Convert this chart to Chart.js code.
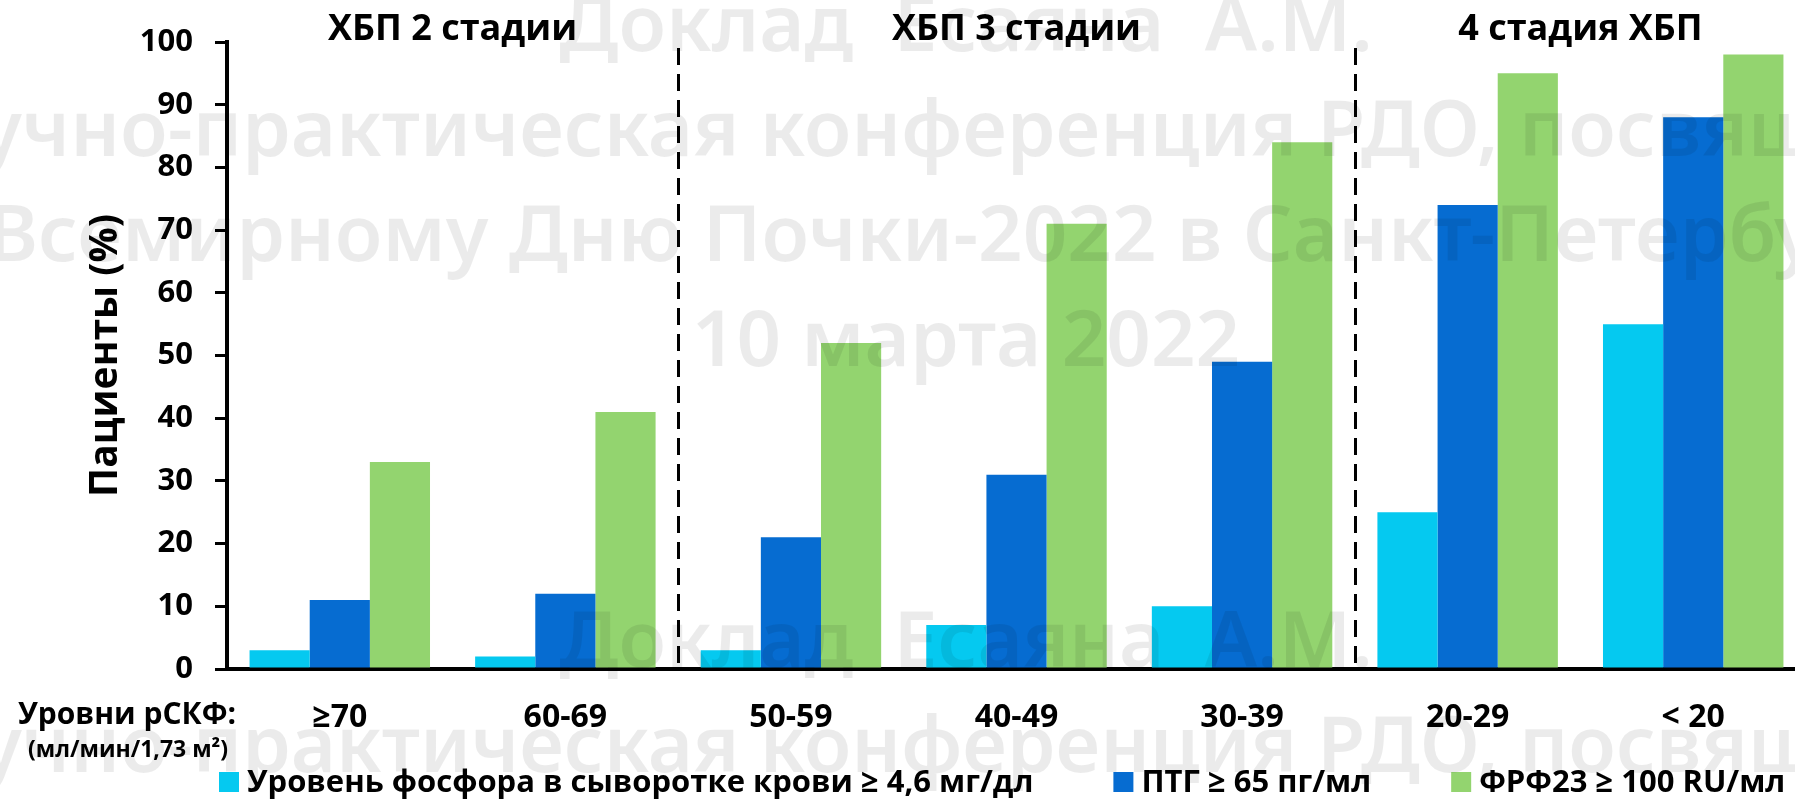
<!DOCTYPE html>
<html>
<head>
<meta charset="utf-8">
<script src="https://cdn.jsdelivr.net/npm/chart.js@4.4.1/dist/chart.umd.min.js"></script>
<style>
  html, body { margin: 0; padding: 0; background: #ffffff; overflow: hidden; }
  #wrap { width: 1795px; height: 799px; overflow: hidden; position: relative; }
  canvas { display: block; }
</style>
</head>
<body>
<div id="wrap"><canvas id="chart" width="1806" height="799"></canvas></div>
<script>
// eGFR ranges (ml/min/1.73 m2)
const categories = ['≥70', '60-69', '50-59', '40-49', '30-39', '20-29', '< 20'];

// share of patients, %
const phosphorus = [3, 2, 3, 7, 10, 25, 55];
const pth = [11, 12, 21, 31, 49, 74, 88];
const fgf23 = [33, 41, 52, 71, 84, 95, 98];

const seriesNames = [
  'Уровень фосфора в сыворотке крови ≥ 4,6 мг/дл',
  'ПТГ ≥ 65 пг/мл',
  'ФРФ23 ≥ 100 RU/мл'
];
const seriesColors = ['#05C9F0', '#066CD1', '#93D46F'];

// CKD stages: label and first/last category index
const stageNames = ['ХБП 2 стадии', 'ХБП 3 стадии', '4 стадия ХБП'];
const stageFirst = [0, 2, 5];
const stageLast = [1, 4, 6];

const yMin = 0, yMax = 100, yStep = 10;

const axisCaption = 'Уровни рСКФ:';
const axisUnits = '(мл/мин/1,73 м²)';
const yTitle = 'Пациенты (%)';

const watermarkLines = [
  'Доклад  Есаяна  А.М.',
  'Научно-практическая конференция РДО, посвященная',
  'Всемирному Дню Почки-2022 в Санкт-Петербурге',
  '10 марта 2022'
];

const FONT = '"Open Sans", "Noto Sans", "DejaVu Sans", sans-serif';
const WM_FONT = '"Noto Sans", "Open Sans", sans-serif';

// dashed separators between CKD stages
const stageDividers = {
  id: 'stageDividers',
  afterDatasetsDraw(chart) {
    const {ctx, chartArea, scales: {x}} = chart;
    ctx.save();
    ctx.strokeStyle = '#000';
    ctx.lineWidth = 3;
    ctx.setLineDash([17, 9]);
    for (let i = 0; i < stageLast.length - 1; i++) {
      const px = Math.round(x.getPixelForValue(stageLast[i] + 0.5)) + 0.5;
      ctx.beginPath();
      ctx.moveTo(px, chartArea.top + 6);
      ctx.lineTo(px, chartArea.bottom);
      ctx.stroke();
    }
    ctx.restore();
  }
};

// stage captions above the plot, axis caption, legend
const annotations = {
  id: 'annotations',
  afterDraw(chart) {
    const {ctx, scales: {x}} = chart;
    ctx.save();
    ctx.fillStyle = '#000';
    ctx.textBaseline = 'middle';
    ctx.textAlign = 'center';
    ctx.font = 'bold 36px ' + FONT;
    stageNames.forEach((name, i) => {
      const cx = (x.getPixelForValue(stageFirst[i]) + x.getPixelForValue(stageLast[i])) / 2;
      ctx.fillText(name, cx, 30);
    });

    ctx.font = 'bold 30px ' + FONT;
    ctx.fillText(axisCaption, 127, 715);
    ctx.font = 'bold 23px ' + FONT;
    ctx.fillText(axisUnits, 128, 750);

    // legend row
    ctx.textAlign = 'left';
    ctx.font = 'bold 31px ' + FONT;
    let lx = 219;
    const ly = 782;
    chart.data.datasets.forEach((ds) => {
      ctx.fillStyle = ds.backgroundColor;
      ctx.fillRect(lx, ly - 10, 20, 20);
      ctx.fillStyle = '#000';
      ctx.fillText(ds.label, lx + 28, ly + 1);
      lx += 28 + ctx.measureText(ds.label).width + 80;
    });
    ctx.restore();
  }
};

// translucent conference watermark over everything
const watermark = {
  id: 'watermark',
  afterDraw(chart) {
    const {ctx} = chart;
    ctx.save();
    ctx.fillStyle = 'rgba(0,0,0,0.08)';
    ctx.font = '600 78px ' + WM_FONT;
    ctx.textAlign = 'center';
    ctx.textBaseline = 'alphabetic';
    const cx = 966, lineStep = 105, blockStep = 616;
    for (let b = 0; b < 2; b++) {
      watermarkLines.forEach((line, i) => {
        ctx.fillText(line, cx, 51 + b * blockStep + i * lineStep);
      });
    }
    ctx.restore();
  }
};

new Chart(document.getElementById('chart'), {
  type: 'bar',
  data: {
    labels: categories,
    datasets: [
      {label: seriesNames[0], data: phosphorus, backgroundColor: seriesColors[0]},
      {label: seriesNames[1], data: pth, backgroundColor: seriesColors[1]},
      {label: seriesNames[2], data: fgf23, backgroundColor: seriesColors[2]}
    ]
  },
  options: {
    responsive: false,
    animation: false,
    devicePixelRatio: 1,
    layout: {padding: {top: 42, right: 0, bottom: 0, left: 0}},
    datasets: {bar: {categoryPercentage: 0.8, barPercentage: 1.0, borderWidth: 0}},
    plugins: {legend: {display: false}, tooltip: {enabled: false}, title: {display: false}},
    scales: {
      x: {
        offset: true,
        grid: {display: false, drawTicks: false},
        border: {display: true, color: '#000', width: 4},
        ticks: {color: '#000', font: {family: FONT, size: 32, weight: 'bold'}, padding: 30, maxRotation: 0},
        afterFit(scale) { scale.height = 130; }
      },
      y: {
        min: yMin,
        max: yMax,
        grid: {display: true, drawOnChartArea: false, drawTicks: true, tickLength: 12, color: '#000', lineWidth: 3},
        border: {display: true, color: '#000', width: 4},
        ticks: {stepSize: yStep, color: '#000', font: {family: FONT, size: 31, weight: 'bold'}, padding: 22},
        title: {display: true, text: yTitle, color: '#000', font: {family: FONT, size: 39, weight: 'bold'}, padding: {top: 82, bottom: 0}},
        afterFit(scale) { scale.width = 227; }
      }
    }
  },
  plugins: [stageDividers, annotations, watermark]
});
</script>
</body>
</html>
